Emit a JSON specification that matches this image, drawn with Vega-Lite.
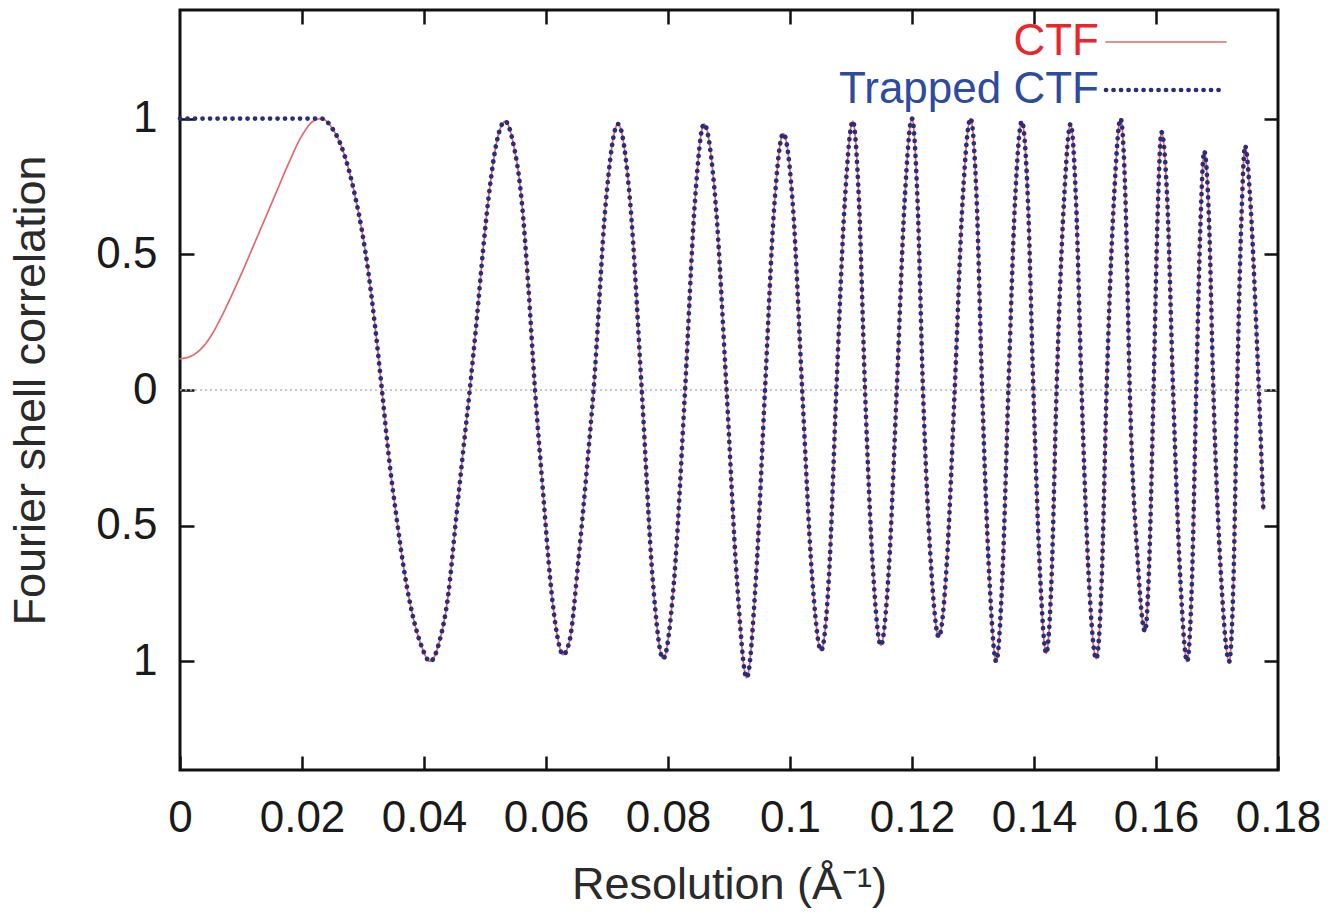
{
  "$schema": "https://vega.github.io/schema/vega-lite/v6.json",
  "width": 1098,
  "height": 760,
  "autosize": "none",
  "padding": {"left": 180, "top": 10, "right": 59, "bottom": 147},
  "background": "white",
  "config": {"view": {"stroke": "#111111", "strokeWidth": 3}, "font": "Liberation Sans"},
  "datasets": {
    "curves": [
      {"k": 0, "CTF": 0.115, "Trapped CTF": 1},
      {"k": 0.002, "CTF": 0.127, "Trapped CTF": 1},
      {"k": 0.004, "CTF": 0.165, "Trapped CTF": 1},
      {"k": 0.0055, "CTF": 0.215, "Trapped CTF": 1},
      {"k": 0.0068, "CTF": 0.27, "Trapped CTF": 1},
      {"k": 0.0085, "CTF": 0.35, "Trapped CTF": 1},
      {"k": 0.0103, "CTF": 0.44, "Trapped CTF": 1},
      {"k": 0.0123, "CTF": 0.545, "Trapped CTF": 1},
      {"k": 0.0143, "CTF": 0.65, "Trapped CTF": 1},
      {"k": 0.016, "CTF": 0.74, "Trapped CTF": 1},
      {"k": 0.0177, "CTF": 0.83, "Trapped CTF": 1},
      {"k": 0.0202, "CTF": 0.945, "Trapped CTF": 1},
      {"k": 0.0218, "CTF": 0.99, "Trapped CTF": 1},
      {"k": 0.0232, "CTF": 1.0, "Trapped CTF": 1.0},
      {"k": 0.0249, "CTF": 0.966, "Trapped CTF": 0.966},
      {"k": 0.0262, "CTF": 0.912, "Trapped CTF": 0.912},
      {"k": 0.0276, "CTF": 0.817, "Trapped CTF": 0.817},
      {"k": 0.0287, "CTF": 0.715, "Trapped CTF": 0.715},
      {"k": 0.0298, "CTF": 0.59, "Trapped CTF": 0.59},
      {"k": 0.0309, "CTF": 0.43, "Trapped CTF": 0.43},
      {"k": 0.032, "CTF": 0.23, "Trapped CTF": 0.23},
      {"k": 0.0331, "CTF": 0, "Trapped CTF": 0},
      {"k": 0.0342, "CTF": -0.24, "Trapped CTF": -0.24},
      {"k": 0.0355, "CTF": -0.47, "Trapped CTF": -0.47},
      {"k": 0.0369, "CTF": -0.687, "Trapped CTF": -0.687},
      {"k": 0.0382, "CTF": -0.836, "Trapped CTF": -0.836},
      {"k": 0.0396, "CTF": -0.944, "Trapped CTF": -0.944},
      {"k": 0.041, "CTF": -1.0, "Trapped CTF": -1.0},
      {"k": 0.0426, "CTF": -0.92, "Trapped CTF": -0.92},
      {"k": 0.044, "CTF": -0.75, "Trapped CTF": -0.75},
      {"k": 0.0451, "CTF": -0.51, "Trapped CTF": -0.51},
      {"k": 0.0463, "CTF": -0.25, "Trapped CTF": -0.25},
      {"k": 0.0475, "CTF": 0, "Trapped CTF": 0},
      {"k": 0.0486, "CTF": 0.248, "Trapped CTF": 0.248},
      {"k": 0.0497, "CTF": 0.519, "Trapped CTF": 0.519},
      {"k": 0.0508, "CTF": 0.749, "Trapped CTF": 0.749},
      {"k": 0.0519, "CTF": 0.912, "Trapped CTF": 0.912},
      {"k": 0.0533, "CTF": 0.99, "Trapped CTF": 0.99},
      {"k": 0.0546, "CTF": 0.912, "Trapped CTF": 0.912},
      {"k": 0.056, "CTF": 0.7, "Trapped CTF": 0.7},
      {"k": 0.0571, "CTF": 0.383, "Trapped CTF": 0.383},
      {"k": 0.0582, "CTF": 0, "Trapped CTF": 0},
      {"k": 0.0596, "CTF": -0.4, "Trapped CTF": -0.4},
      {"k": 0.0607, "CTF": -0.7, "Trapped CTF": -0.7},
      {"k": 0.0618, "CTF": -0.9, "Trapped CTF": -0.9},
      {"k": 0.0628, "CTF": -0.975, "Trapped CTF": -0.975},
      {"k": 0.0639, "CTF": -0.92, "Trapped CTF": -0.92},
      {"k": 0.0653, "CTF": -0.63, "Trapped CTF": -0.63},
      {"k": 0.0667, "CTF": -0.29, "Trapped CTF": -0.29},
      {"k": 0.0678, "CTF": 0, "Trapped CTF": 0},
      {"k": 0.0698, "CTF": 0.69, "Trapped CTF": 0.69},
      {"k": 0.0718, "CTF": 0.98, "Trapped CTF": 0.98},
      {"k": 0.0738, "CTF": 0.69, "Trapped CTF": 0.69},
      {"k": 0.0757, "CTF": 0, "Trapped CTF": 0},
      {"k": 0.0775, "CTF": -0.7, "Trapped CTF": -0.7},
      {"k": 0.0792, "CTF": -0.99, "Trapped CTF": -0.99},
      {"k": 0.081, "CTF": -0.7, "Trapped CTF": -0.7},
      {"k": 0.0828, "CTF": 0, "Trapped CTF": 0},
      {"k": 0.0844, "CTF": 0.69, "Trapped CTF": 0.69},
      {"k": 0.0859, "CTF": 0.98, "Trapped CTF": 0.98},
      {"k": 0.0878, "CTF": 0.69, "Trapped CTF": 0.69},
      {"k": 0.0896, "CTF": 0, "Trapped CTF": 0},
      {"k": 0.0913, "CTF": -0.7, "Trapped CTF": -0.7},
      {"k": 0.0929, "CTF": -1.06, "Trapped CTF": -1.06},
      {"k": 0.0944, "CTF": -0.7, "Trapped CTF": -0.7},
      {"k": 0.0959, "CTF": 0, "Trapped CTF": 0},
      {"k": 0.0974, "CTF": 0.67, "Trapped CTF": 0.67},
      {"k": 0.0989, "CTF": 0.945, "Trapped CTF": 0.945},
      {"k": 0.1005, "CTF": 0.67, "Trapped CTF": 0.67},
      {"k": 0.102, "CTF": 0, "Trapped CTF": 0},
      {"k": 0.1036, "CTF": -0.68, "Trapped CTF": -0.68},
      {"k": 0.1051, "CTF": -0.96, "Trapped CTF": -0.96},
      {"k": 0.1064, "CTF": -0.68, "Trapped CTF": -0.68},
      {"k": 0.1076, "CTF": 0, "Trapped CTF": 0},
      {"k": 0.109, "CTF": 0.7, "Trapped CTF": 0.7},
      {"k": 0.1103, "CTF": 0.99, "Trapped CTF": 0.99},
      {"k": 0.1113, "CTF": 0.7, "Trapped CTF": 0.7},
      {"k": 0.1123, "CTF": 0, "Trapped CTF": 0},
      {"k": 0.1136, "CTF": -0.66, "Trapped CTF": -0.66},
      {"k": 0.1149, "CTF": -0.94, "Trapped CTF": -0.94},
      {"k": 0.1162, "CTF": -0.66, "Trapped CTF": -0.66},
      {"k": 0.1175, "CTF": 0, "Trapped CTF": 0},
      {"k": 0.1188, "CTF": 0.7, "Trapped CTF": 0.7},
      {"k": 0.12, "CTF": 1.0, "Trapped CTF": 1.0},
      {"k": 0.1209, "CTF": 0.7, "Trapped CTF": 0.7},
      {"k": 0.1218, "CTF": 0, "Trapped CTF": 0},
      {"k": 0.1231, "CTF": -0.64, "Trapped CTF": -0.64},
      {"k": 0.1244, "CTF": -0.91, "Trapped CTF": -0.91},
      {"k": 0.1257, "CTF": -0.64, "Trapped CTF": -0.64},
      {"k": 0.127, "CTF": 0, "Trapped CTF": 0},
      {"k": 0.1283, "CTF": 0.7, "Trapped CTF": 0.7},
      {"k": 0.1296, "CTF": 1.0, "Trapped CTF": 1.0},
      {"k": 0.1306, "CTF": 0.7, "Trapped CTF": 0.7},
      {"k": 0.1315, "CTF": 0, "Trapped CTF": 0},
      {"k": 0.1327, "CTF": -0.7, "Trapped CTF": -0.7},
      {"k": 0.1338, "CTF": -1.0, "Trapped CTF": -1.0},
      {"k": 0.1348, "CTF": -0.7, "Trapped CTF": -0.7},
      {"k": 0.1358, "CTF": 0, "Trapped CTF": 0},
      {"k": 0.1369, "CTF": 0.7, "Trapped CTF": 0.7},
      {"k": 0.138, "CTF": 0.99, "Trapped CTF": 0.99},
      {"k": 0.139, "CTF": 0.7, "Trapped CTF": 0.7},
      {"k": 0.1399, "CTF": 0, "Trapped CTF": 0},
      {"k": 0.141, "CTF": -0.68, "Trapped CTF": -0.68},
      {"k": 0.142, "CTF": -0.97, "Trapped CTF": -0.97},
      {"k": 0.1429, "CTF": -0.68, "Trapped CTF": -0.68},
      {"k": 0.1437, "CTF": 0, "Trapped CTF": 0},
      {"k": 0.1449, "CTF": 0.69, "Trapped CTF": 0.69},
      {"k": 0.146, "CTF": 0.98, "Trapped CTF": 0.98},
      {"k": 0.1469, "CTF": 0.69, "Trapped CTF": 0.69},
      {"k": 0.1478, "CTF": 0, "Trapped CTF": 0},
      {"k": 0.149, "CTF": -0.7, "Trapped CTF": -0.7},
      {"k": 0.1502, "CTF": -0.99, "Trapped CTF": -0.99},
      {"k": 0.1511, "CTF": -0.7, "Trapped CTF": -0.7},
      {"k": 0.1519, "CTF": 0, "Trapped CTF": 0},
      {"k": 0.1531, "CTF": 0.7, "Trapped CTF": 0.7},
      {"k": 0.1542, "CTF": 1.0, "Trapped CTF": 1.0},
      {"k": 0.155, "CTF": 0.7, "Trapped CTF": 0.7},
      {"k": 0.1557, "CTF": 0, "Trapped CTF": 0},
      {"k": 0.157, "CTF": -0.63, "Trapped CTF": -0.63},
      {"k": 0.1582, "CTF": -0.89, "Trapped CTF": -0.89},
      {"k": 0.1589, "CTF": -0.63, "Trapped CTF": -0.63},
      {"k": 0.1596, "CTF": 0, "Trapped CTF": 0},
      {"k": 0.1603, "CTF": 0.67, "Trapped CTF": 0.67},
      {"k": 0.1609, "CTF": 0.95, "Trapped CTF": 0.95},
      {"k": 0.1619, "CTF": 0.67, "Trapped CTF": 0.67},
      {"k": 0.1628, "CTF": 0, "Trapped CTF": 0},
      {"k": 0.164, "CTF": -0.7, "Trapped CTF": -0.7},
      {"k": 0.1651, "CTF": -1.0, "Trapped CTF": -1.0},
      {"k": 0.1659, "CTF": -0.7, "Trapped CTF": -0.7},
      {"k": 0.1666, "CTF": 0, "Trapped CTF": 0},
      {"k": 0.1673, "CTF": 0.62, "Trapped CTF": 0.62},
      {"k": 0.1679, "CTF": 0.88, "Trapped CTF": 0.88},
      {"k": 0.1687, "CTF": 0.62, "Trapped CTF": 0.62},
      {"k": 0.1694, "CTF": 0, "Trapped CTF": 0},
      {"k": 0.1707, "CTF": -0.7, "Trapped CTF": -0.7},
      {"k": 0.172, "CTF": -1.0, "Trapped CTF": -1.0},
      {"k": 0.1727, "CTF": -0.7, "Trapped CTF": -0.7},
      {"k": 0.1733, "CTF": 0, "Trapped CTF": 0},
      {"k": 0.174, "CTF": 0.63, "Trapped CTF": 0.63},
      {"k": 0.1746, "CTF": 0.9, "Trapped CTF": 0.9},
      {"k": 0.1754, "CTF": 0.72, "Trapped CTF": 0.72},
      {"k": 0.1765, "CTF": 0.2, "Trapped CTF": 0.2},
      {"k": 0.1776, "CTF": -0.44, "Trapped CTF": -0.44}
    ]
  },
  "layer": [
    {
      "data": {"values": [{}]},
      "mark": {"type": "rule", "stroke": "#b4b4b4", "strokeWidth": 1.5, "strokeDash": [2, 3]},
      "encoding": {
        "x": {"datum": 0, "type": "quantitative",
          "scale": {"domain": [0, 0.18], "nice": false, "zero": false},
          "axis": {"orient": "top", "values": [0.02, 0.04, 0.06, 0.08, 0.1, 0.12, 0.14, 0.16], "labels": false, "domain": false, "grid": false, "title": null, "tickSize": -14, "tickWidth": 2.5, "tickColor": "#111111"}},
        "x2": {"datum": 0.18},
        "y": {"datum": 0, "type": "quantitative",
          "scale": {"domain": [-1.4, 1.4], "nice": false, "zero": false},
          "axis": {"orient": "right", "values": [-1, -0.5, 0, 0.5, 1], "labels": false, "domain": false, "grid": false, "title": null, "tickSize": -14, "tickWidth": 2.5, "tickColor": "#111111"}}
      }
    },
    {
      "data": {"name": "curves"},
      "transform": [
        {"fold": ["CTF", "Trapped CTF"], "as": ["series", "value"]},
        {"filter": "datum.series === 'CTF'"}
      ],
      "mark": {"type": "line", "interpolate": "monotone", "strokeCap": "round"},
      "encoding": {
        "x": {"field": "k", "type": "quantitative",
          "scale": {"domain": [0, 0.18], "nice": false, "zero": false},
          "axis": {"orient": "bottom", "values": [0, 0.02, 0.04, 0.06, 0.08, 0.1, 0.12, 0.14, 0.16, 0.18], "labelExpr": "'' + datum.value", "labelOverlap": false, "labelFlush": false, "labelBound": false, "domain": false, "grid": false, "tickSize": -14, "tickWidth": 2.5, "tickColor": "#111111", "labelFontSize": 44, "labelColor": "#1a1a1a", "labelPadding": 40, "title": "Resolution (Å⁻¹)", "titleFontSize": 45, "titleFontWeight": "normal", "titleColor": "#2a2a2a", "titlePadding": 22}},
        "y": {"field": "value", "type": "quantitative",
          "scale": {"domain": [-1.4, 1.4], "nice": false, "zero": false},
          "axis": {"orient": "left", "values": [-1, -0.5, 0, 0.5, 1], "labelExpr": "'' + abs(datum.value)", "labelOverlap": false, "labelFlush": false, "labelBound": false, "domain": false, "grid": false, "tickSize": -14, "tickWidth": 2.5, "tickColor": "#111111", "labelFontSize": 44, "labelColor": "#1a1a1a", "labelPadding": 37, "title": "Fourier shell correlation", "titleFontSize": 45, "titleFontWeight": "normal", "titleColor": "#2a2a2a", "titlePadding": 42}},
        "color": {"field": "series", "type": "nominal",
          "scale": {"domain": ["CTF", "Trapped CTF"], "range": ["#e06a72", "#2b2d7a"]},
          "legend": {"orient": "none", "legendX": 964, "legendY": 10, "title": null, "symbolType": "M-12,0H12", "symbolSize": 100, "labelFontSize": 44, "labelFont": "Liberation Sans", "labelLimit": 0, "labelAlign": "right", "labelOffset": -89, "rowPadding": 4, "padding": 0,
            "encode": {"labels": {"update": {"fill": {"signal": "datum.value === 'CTF' ? '#e8262b' : '#2e4b9f'"}}}, "symbols": {"update": {"strokeCap": {"value": "round"}, "fill": {"value": "transparent"}}}}}},
        "strokeDash": {"field": "series", "type": "nominal",
          "scale": {"domain": ["CTF", "Trapped CTF"], "range": [[1, 0], [0.1, 7.4]]}},
        "strokeWidth": {"field": "series", "type": "ordinal",
          "scale": {"domain": ["CTF", "Trapped CTF"], "range": [1.7, 4.7]}}
      }
    },
    {
      "data": {"name": "curves"},
      "transform": [
        {"fold": ["CTF", "Trapped CTF"], "as": ["series", "value"]},
        {"filter": "datum.series === 'Trapped CTF'"}
      ],
      "mark": {"type": "line", "interpolate": "monotone", "strokeCap": "round"},
      "encoding": {
        "x": {"field": "k", "type": "quantitative", "scale": {"domain": [0, 0.18], "nice": false, "zero": false}, "axis": null},
        "y": {"field": "value", "type": "quantitative", "scale": {"domain": [-1.4, 1.4], "nice": false, "zero": false}, "axis": null},
        "color": {"field": "series", "type": "nominal",
          "scale": {"domain": ["CTF", "Trapped CTF"], "range": ["#e06a72", "#2b2d7a"]},
          "legend": {"orient": "none", "legendX": 964, "legendY": 10, "title": null, "symbolType": "M-12,0H12", "symbolSize": 100, "labelFontSize": 44, "labelFont": "Liberation Sans", "labelLimit": 0, "labelAlign": "right", "labelOffset": -89, "rowPadding": 4, "padding": 0,
            "encode": {"labels": {"update": {"fill": {"signal": "datum.value === 'CTF' ? '#e8262b' : '#2e4b9f'"}}}, "symbols": {"update": {"strokeCap": {"value": "round"}, "fill": {"value": "transparent"}}}}}},
        "strokeDash": {"field": "series", "type": "nominal",
          "scale": {"domain": ["CTF", "Trapped CTF"], "range": [[1, 0], [0.1, 7.4]]}},
        "strokeWidth": {"field": "series", "type": "ordinal",
          "scale": {"domain": ["CTF", "Trapped CTF"], "range": [1.7, 4.7]}}
      }
    }
  ],
  "resolve": {"axis": {"x": "independent", "y": "independent"}}
}
